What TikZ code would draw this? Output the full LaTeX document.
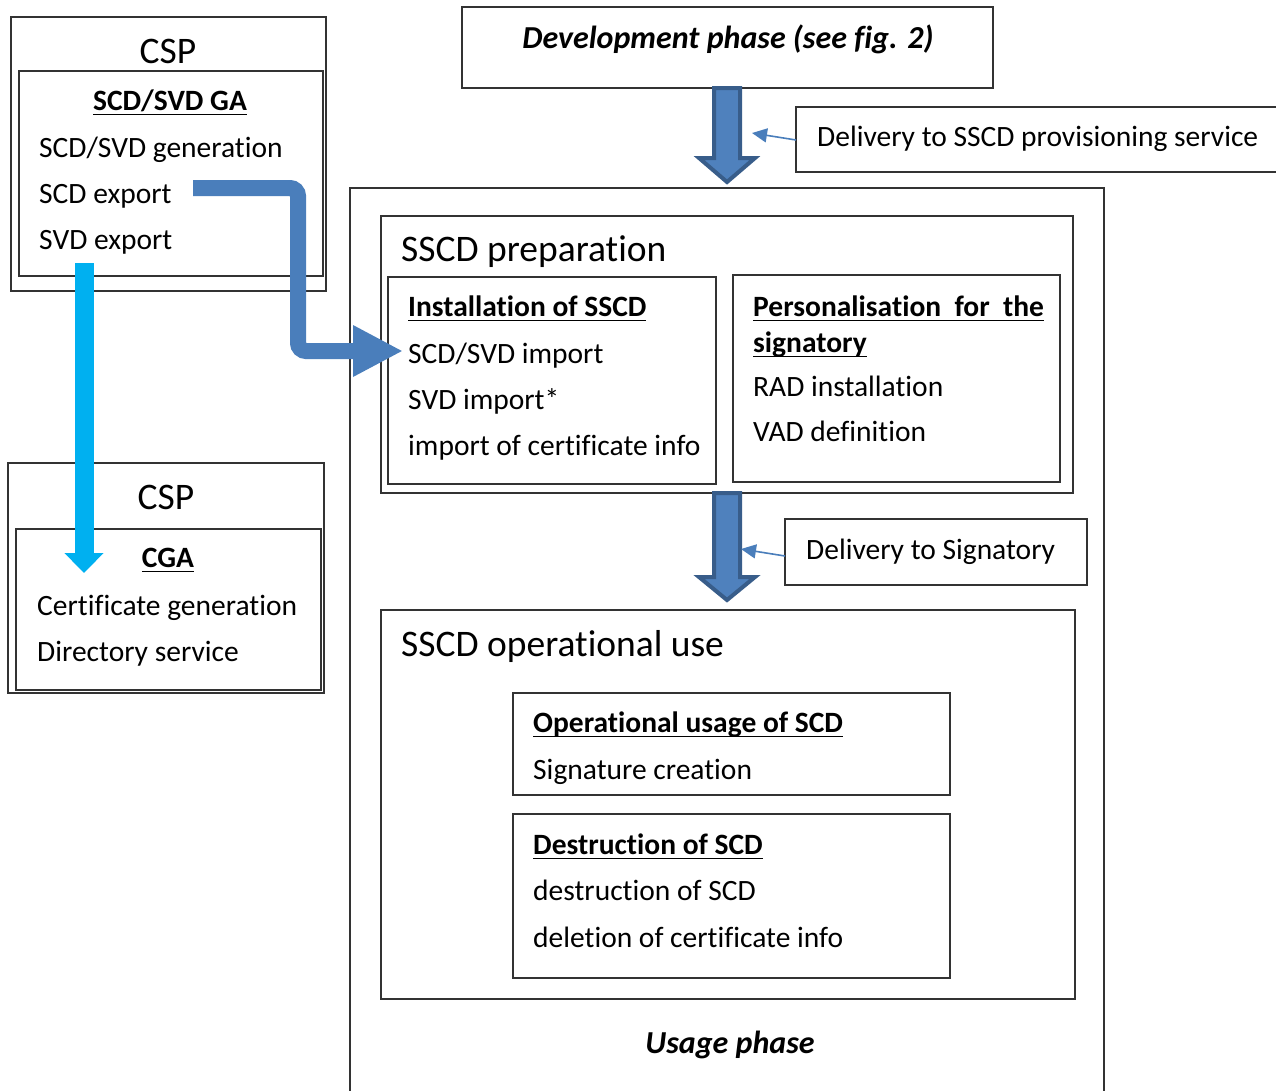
\documentclass[tikz,border=0pt]{standalone}
\usepackage{fontspec}
\setmainfont{Carlito}[Ligatures=NoCommon]
\usetikzlibrary{arrows.meta}
\definecolor{arrowblue}{HTML}{4F81BD}
\definecolor{arrowdark}{HTML}{385D8A}
\definecolor{elbowblue}{HTML}{4A7EBB}
\definecolor{cyanarrow}{HTML}{00B0F0}
\newsavebox\myulbox
\newcommand\myul[1]{\sbox\myulbox{#1}\rlap{\vrule height -3.5pt depth 5.3pt width \wd\myulbox}\usebox\myulbox}
\begin{document}
\begin{tikzpicture}[x=1pt,y=-1pt,
  box/.style={draw=black!80, line width=1.1pt, fill=white, anchor=north west, inner sep=0pt, outer sep=0pt},
  txt/.style={anchor=base west, inner sep=0pt, font=\fontsize{29.5}{33}\selectfont},
  ttl/.style={anchor=base west, inner sep=0pt, font=\fontsize{37.5}{41}\selectfont},
  cttl/.style={anchor=base, inner sep=0pt, font=\fontsize{37.5}{41}\selectfont},
  head/.style={anchor=base west, inner sep=0pt, font=\fontsize{29.5}{33}\selectfont\bfseries},
  chead/.style={anchor=base, inner sep=0pt, font=\fontsize{29.5}{33}\selectfont\bfseries},
  phase/.style={anchor=base, inner sep=0pt, font=\fontsize{32}{36}\selectfont\bfseries\itshape},
  blockarrow/.style={draw=arrowdark, fill=arrowblue, line width=4pt, line join=miter},
  thinarrow/.style={draw=elbowblue, line width=1.6pt, -{Triangle[length=15pt,width=14pt]}}
]
\useasboundingbox (0,0) rectangle (1276,1090);

% Usage phase outer box
\node[box, minimum width=754pt, minimum height=920pt] (usage) at (350,188) {};
\node[phase] (usagettl) at (730,1053) {Usage phase};

% SSCD preparation
\node[box, minimum width=692pt, minimum height=277pt] (prep) at (381,216) {};
\node[ttl] (prepttl) at (401,261) {SSCD preparation};
\node[box, minimum width=328pt, minimum height=207pt] (inst) at (388,277) {};
\node[head] (instttl) at (408,316) {\myul{Installation of SSCD}};
\node[txt] (inst1) at (408,363) {SCD/SVD import};
\node[txt] (inst2) at (408,409) {SVD import*};
\node[txt] (inst3) at (408,455) {import of certificate info};
\node[box, minimum width=327pt, minimum height=207pt] (pers) at (733,275) {};
\node[head] (persttl) at (753,316) {\myul{Personalisation\ \ for\ \ the}};
\node[head] (persttl2) at (753,352) {\myul{signatory}};
\node[txt] (pers1) at (753,396) {RAD installation};
\node[txt] (pers2) at (753,441) {VAD definition};

% SSCD operational use
\node[box, minimum width=694pt, minimum height=389pt] (oper) at (381,610) {};
\node[ttl] (operttl) at (401,656) {SSCD operational use};
\node[box, minimum width=437pt, minimum height=102pt] (usageSCD) at (513,693) {};
\node[head] (usageSCDttl) at (533,732) {\myul{Operational usage of SCD}};
\node[txt] (usage1) at (533,779) {Signature creation};
\node[box, minimum width=437pt, minimum height=164pt] (destr) at (513,814) {};
\node[head] (destrttl) at (533,854) {\myul{Destruction of SCD}};
\node[txt] (destr1) at (533,900) {destruction of SCD};
\node[txt] (destr2) at (533,947) {deletion of certificate info};

% CSP 1
\node[box, minimum width=315pt, minimum height=274pt] (csp1) at (11,17) {};
\node[cttl] (csp1ttl) at (168,63) {CSP};
\node[box, minimum width=304pt, minimum height=205pt] (ga) at (19,71) {};
\node[chead] (gattl) at (170,110) {\myul{SCD/SVD GA}};
\node[txt] (ga1) at (39,157) {SCD/SVD generation};
\node[txt] (ga2) at (39,203) {SCD export};
\node[txt] (ga3) at (39,249) {SVD export};

% CSP 2
\node[box, minimum width=316pt, minimum height=230pt] (csp2) at (8,463) {};
\node[cttl] (csp2ttl) at (166,509) {CSP};
\node[box, minimum width=305pt, minimum height=161pt] (cga) at (16,529) {};
\node[chead] (cgattl) at (168,567) {\myul{CGA}};
\node[txt] (cga1) at (37,615) {Certificate generation};
\node[txt] (cga2) at (37,661) {Directory service};

% Development phase
\node[box, minimum width=531pt, minimum height=81pt] (dev) at (462,7) {};
\node[phase] (devttl) at (728,48) {Development phase (see fig. 2)};

% Delivery boxes
\node[box, minimum width=495pt, minimum height=65pt] (deliv1) at (796,107) {};
\node[txt] (deliv1t) at (817,146) {Delivery to SSCD provisioning service};
\node[box, minimum width=302pt, minimum height=66pt] (deliv2) at (785,519) {};
\node[txt] (deliv2t) at (806,559) {Delivery to Signatory};

% Block arrow 1 (dev -> usage)
\coordinate (a1top) at (727,88);
\coordinate (a1tip) at (727,182);
\path[blockarrow] ([xshift=-13pt]a1top) -- ([xshift=13pt]a1top) -- (740,158) -- (755,158) -- (a1tip) -- (699,158) -- (714,158) -- cycle;
% Block arrow 2 (prep -> oper)
\coordinate (a2top) at (727,493);
\coordinate (a2tip) at (727,600);
\path[blockarrow] ([xshift=-13pt]a2top) -- ([xshift=13pt]a2top) -- (740,577) -- (755,577) -- (a2tip) -- (699,577) -- (714,577) -- cycle;

% thin arrows from delivery boxes
\coordinate (t1) at (752,133);
\coordinate (t2) at (741,549);
\draw[thinarrow] (deliv1.west |- 0,140) -- (t1);
\draw[thinarrow] (deliv2.west |- 0,556) -- (t2);

% Elbow arrow SCD export -> SCD/SVD import
\coordinate (e0) at (193,188);
\coordinate (e3) at (403,351);
\draw[elbowblue, line width=16pt, rounded corners=8pt, -{Triangle[length=50pt,width=48pt]}]
  (e0) -- (298,188) -- (298,351) -- (e3);

% Cyan arrow SVD export -> CGA
\coordinate (c0) at (84,263);
\coordinate (c1) at (84,573);
\draw[cyanarrow, line width=19pt, -{Triangle[length=20pt,width=38pt]}] (c0) -- (c1);
\end{tikzpicture}
\end{document}
